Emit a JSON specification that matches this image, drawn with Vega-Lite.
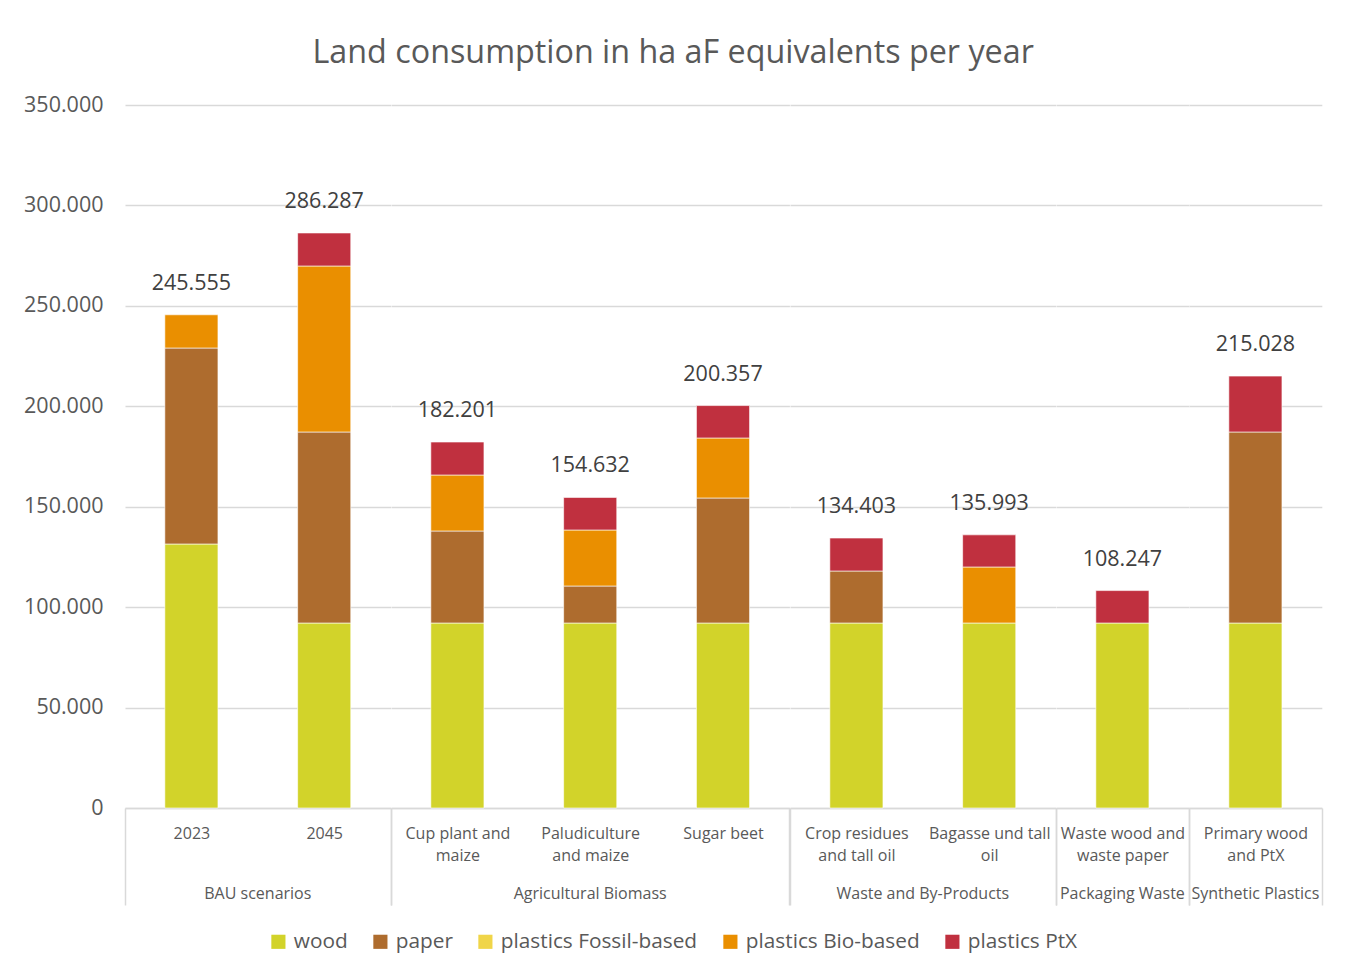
{
  "$schema": "https://vega.github.io/schema/vega-lite/v6.json",
  "padding": {"left": 23, "top": 36, "right": 25, "bottom": 10},
  "background": "white",
  "bounds": "flush",
  "title": {"text": "Land consumption in ha aF equivalents per year", "fontSize": 32.3, "font": "Open Sans", "fontWeight": "normal", "color": "#595959", "anchor": "middle", "frame": "bounds", "offset": 25},
  "datasets": {
    "seriesOrder": [
      {"series": "wood", "rank": 1},
      {"series": "paper", "rank": 2},
      {"series": "plastics Fossil-based", "rank": 3},
      {"series": "plastics Bio-based", "rank": 4},
      {"series": "plastics PtX", "rank": 5}
    ]
  },
  "data": {"values": [
    {"group": "BAU scenarios", "category": "2023", "series": "wood", "value": 131437},
    {"group": "BAU scenarios", "category": "2023", "series": "paper", "value": 97581},
    {"group": "BAU scenarios", "category": "2023", "series": "plastics Bio-based", "value": 16537},
    {"group": "BAU scenarios", "category": "2045", "series": "wood", "value": 92105},
    {"group": "BAU scenarios", "category": "2045", "series": "paper", "value": 95093},
    {"group": "BAU scenarios", "category": "2045", "series": "plastics Bio-based", "value": 82646},
    {"group": "BAU scenarios", "category": "2045", "series": "plastics PtX", "value": 16443},
    {"group": "Agricultural Biomass", "category": "Cup plant and maize", "series": "wood", "value": 92105},
    {"group": "Agricultural Biomass", "category": "Cup plant and maize", "series": "paper", "value": 45804},
    {"group": "Agricultural Biomass", "category": "Cup plant and maize", "series": "plastics Bio-based", "value": 27880},
    {"group": "Agricultural Biomass", "category": "Cup plant and maize", "series": "plastics PtX", "value": 16412},
    {"group": "Agricultural Biomass", "category": "Paludiculture and maize", "series": "wood", "value": 92105},
    {"group": "Agricultural Biomass", "category": "Paludiculture and maize", "series": "paper", "value": 18421},
    {"group": "Agricultural Biomass", "category": "Paludiculture and maize", "series": "plastics Bio-based", "value": 27881},
    {"group": "Agricultural Biomass", "category": "Paludiculture and maize", "series": "plastics PtX", "value": 16225},
    {"group": "Agricultural Biomass", "category": "Sugar beet", "series": "wood", "value": 92105},
    {"group": "Agricultural Biomass", "category": "Sugar beet", "series": "paper", "value": 62234},
    {"group": "Agricultural Biomass", "category": "Sugar beet", "series": "plastics Bio-based", "value": 29872},
    {"group": "Agricultural Biomass", "category": "Sugar beet", "series": "plastics PtX", "value": 16146},
    {"group": "Waste and By-Products", "category": "Crop residues and tall oil", "series": "wood", "value": 92105},
    {"group": "Waste and By-Products", "category": "Crop residues and tall oil", "series": "paper", "value": 25889},
    {"group": "Waste and By-Products", "category": "Crop residues and tall oil", "series": "plastics PtX", "value": 16409},
    {"group": "Waste and By-Products", "category": "Bagasse und tall oil", "series": "wood", "value": 92105},
    {"group": "Waste and By-Products", "category": "Bagasse und tall oil", "series": "plastics Bio-based", "value": 27881},
    {"group": "Waste and By-Products", "category": "Bagasse und tall oil", "series": "plastics PtX", "value": 16007},
    {"group": "Packaging Waste", "category": "Waste wood and waste paper", "series": "wood", "value": 92105},
    {"group": "Packaging Waste", "category": "Waste wood and waste paper", "series": "plastics PtX", "value": 16142},
    {"group": "Synthetic Plastics", "category": "Primary wood and PtX", "series": "wood", "value": 92105},
    {"group": "Synthetic Plastics", "category": "Primary wood and PtX", "series": "paper", "value": 95093},
    {"group": "Synthetic Plastics", "category": "Primary wood and PtX", "series": "plastics PtX", "value": 27830}
  ]},
  "transform": [
    {"lookup": "series", "from": {"data": {"name": "seriesOrder"}, "key": "series", "fields": ["rank"]}}
  ],
  "facet": {
    "column": {
      "field": "group", "type": "nominal",
      "sort": ["BAU scenarios", "Agricultural Biomass", "Waste and By-Products", "Packaging Waste", "Synthetic Plastics"],
      "title": null,
      "header": {"title": null, "labelOrient": "bottom", "labelFontSize": 16, "labelFont": "Open Sans", "labelColor": "#595959", "labelPadding": 78, "labelBaseline": "top"}
    }
  },
  "spacing": 0,
  "resolve": {"scale": {"x": "independent"}},
  "spec": {
    "width": {"step": 132.8},
    "height": 703,
    "encoding": {
      "x": {
        "field": "category", "type": "nominal", "sort": null,
        "scale": {"paddingInner": 0, "paddingOuter": 0},
        "axis": {
          "title": null, "labelAngle": 0, "labelFontSize": 16, "labelColor": "#595959", "labelBaseline": "top", "labelLineHeight": 22,
          "labelPadding": -80,
          "labelExpr": "datum.label == 'Cup plant and maize' ? ['Cup plant and', 'maize'] : datum.label == 'Paludiculture and maize' ? ['Paludiculture', 'and maize'] : datum.label == 'Crop residues and tall oil' ? ['Crop residues', 'and tall oil'] : datum.label == 'Bagasse und tall oil' ? ['Bagasse und tall', 'oil'] : datum.label == 'Waste wood and waste paper' ? ['Waste wood and', 'waste paper'] : datum.label == 'Primary wood and PtX' ? ['Primary wood', 'and PtX'] : datum.label",
          "domainColor": "#d9d9d9", "domainWidth": 1.5,
          "tickBand": "extent", "tickSize": 97, "tickColor": "#d9d9d9", "tickWidth": 1.5,
          "tickOpacity": {"condition": {"test": "!datum.value || indexof(['2045', 'Sugar beet', 'Bagasse und tall oil', 'Waste wood and waste paper', 'Primary wood and PtX'], datum.value) >= 0", "value": 1}, "value": 0}
        }
      }
    },
    "layer": [
      {
        "mark": {"type": "bar", "stroke": "white", "strokeWidth": 0.6, "width": {"band": 0.4}},
        "encoding": {
          "y": {"field": "value", "type": "quantitative", "stack": "zero",
            "scale": {"domain": [0, 350000]},
            "axis": {"title": null, "values": [0, 50000, 100000, 150000, 200000, 250000, 300000, 350000], "format": ",.0f", "labelFontSize": 21.5, "labelColor": "#595959", "labelPadding": 22, "ticks": false, "domain": false, "gridColor": "#d9d9d9", "gridWidth": 1.5}
          },
          "order": {"field": "rank", "type": "quantitative", "sort": "ascending"},
          "color": {"field": "series", "type": "nominal",
            "scale": {"domain": ["wood", "paper", "plastics Fossil-based", "plastics Bio-based", "plastics PtX"], "range": ["#D2D32A", "#AE6C2E", "#F0D548", "#EA8F00", "#C0303F"]},
            "legend": {"title": null, "orient": "bottom", "direction": "horizontal", "symbolType": "square", "symbolSize": 200, "symbolStrokeWidth": 0, "labelFontSize": 20.8, "labelColor": "#595959", "labelLimit": 400, "columnPadding": 22, "labelOffset": 5, "offset": 25}
          }
        }
      },
      {
        "mark": {"type": "text", "baseline": "bottom", "dy": -20, "fontSize": 21.5, "color": "#404040"},
        "encoding": {
          "y": {"field": "value", "type": "quantitative", "aggregate": "sum"},
          "text": {"field": "value", "type": "quantitative", "aggregate": "sum", "format": ",.0f"}
        }
      }
    ]
  },
  "config": {
    "font": "Open Sans",
    "locale": {"number": {"decimal": ",", "thousands": ".", "grouping": [3], "currency": ["", " €"]}},
    "view": {"stroke": null},
    "legend": {"layout": {"bottom": {"anchor": "middle"}}}
  }
}
